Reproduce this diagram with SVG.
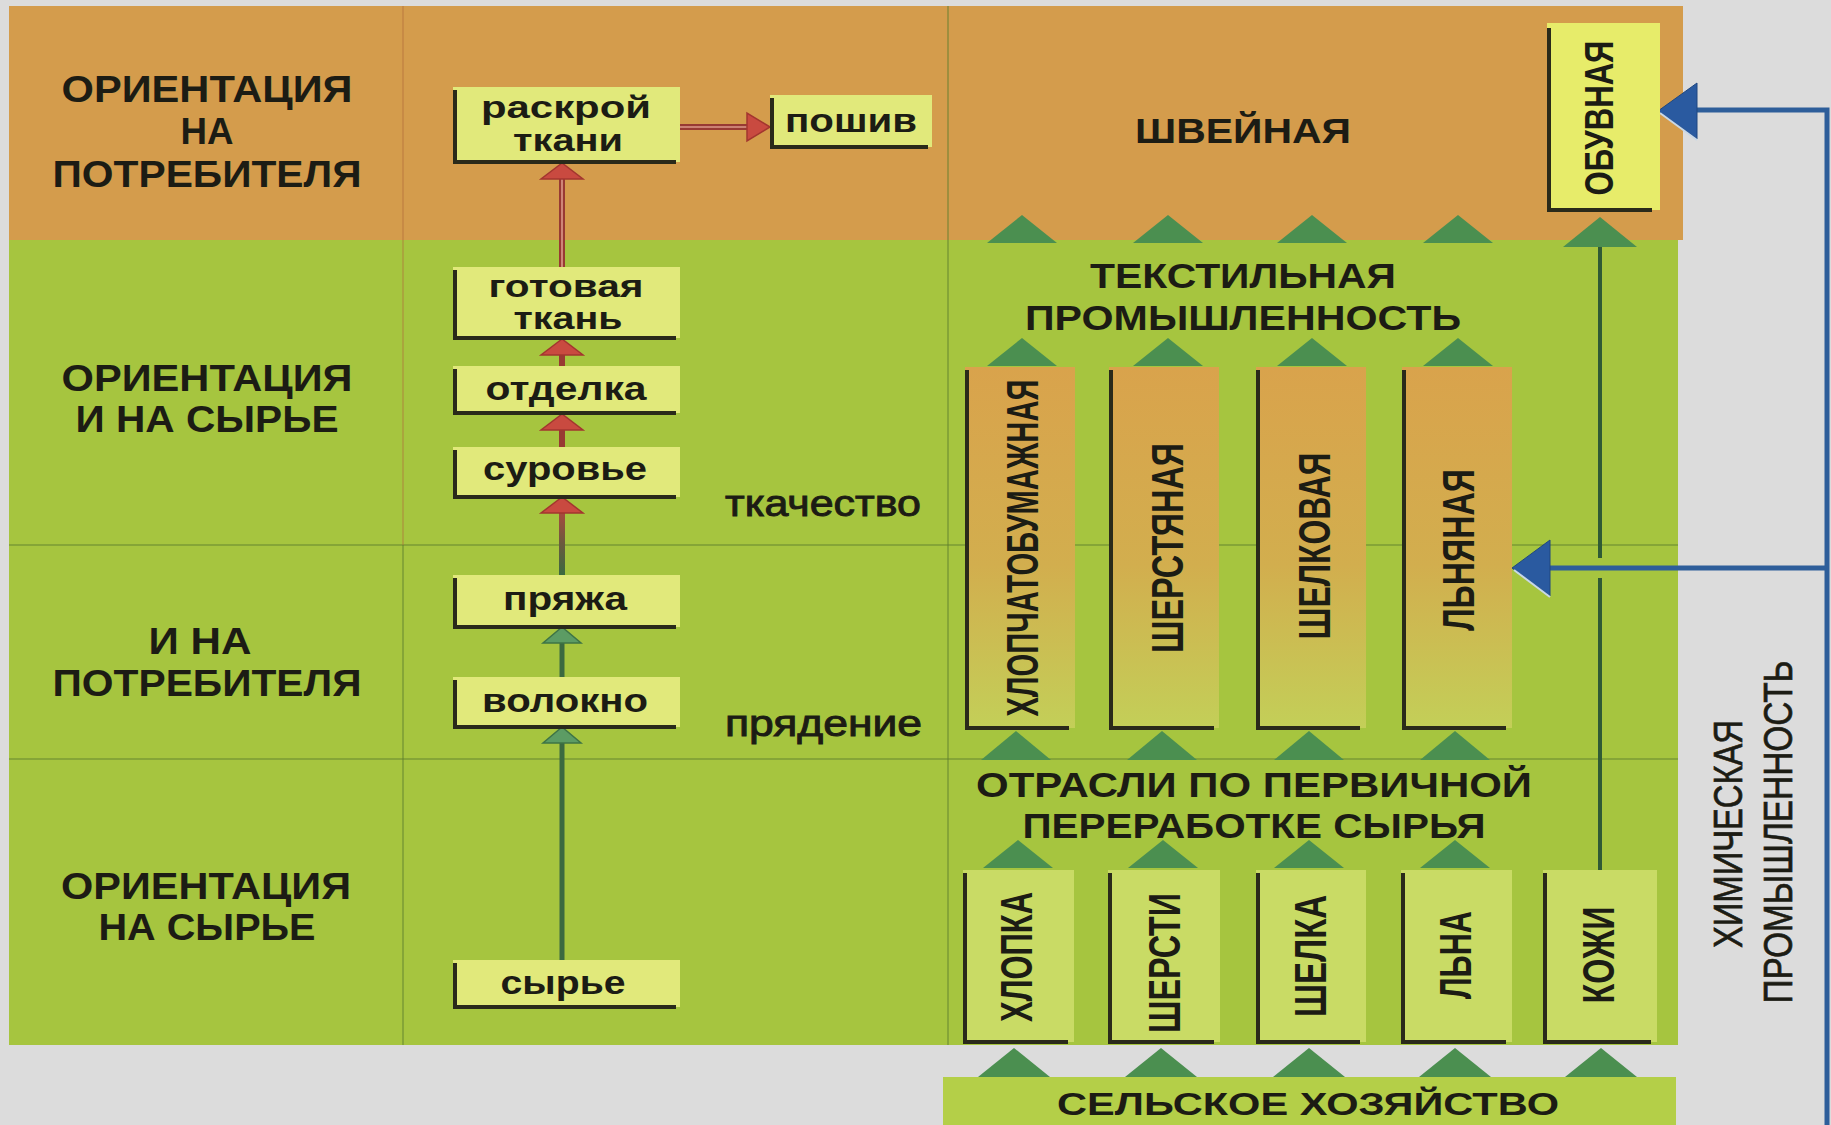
<svg xmlns="http://www.w3.org/2000/svg" width="1831" height="1125" viewBox="0 0 1831 1125">
<defs>
<linearGradient id="tallFill" x1="0" y1="0" x2="0" y2="1">
<stop offset="0" stop-color="#d9a34c"/>
<stop offset="0.55" stop-color="#d2ae4e"/>
<stop offset="1" stop-color="#c3cf58"/>
</linearGradient>
<linearGradient id="redGreen" gradientUnits="userSpaceOnUse" x1="0" y1="512" x2="0" y2="575">
<stop offset="0" stop-color="#a84a3e"/>
<stop offset="0.5" stop-color="#6b5a3e"/>
<stop offset="1" stop-color="#3b6a40"/>
</linearGradient>
<style>
text{font-family:"Liberation Sans",Arial,"DejaVu Sans",sans-serif;fill:#1c1c14}
.lbl{font-size:36px;font-weight:bold;text-anchor:middle}
.hd{font-size:35px;font-weight:bold;text-anchor:middle}
.nd{font-size:34px;font-weight:bold;text-anchor:middle}
.nd2{font-size:31px;font-weight:bold;text-anchor:middle}
.pr{font-size:36px;font-weight:normal;stroke:#1c1c14;stroke-width:0.9;text-anchor:start}
.vt{font-size:44px;font-weight:bold;text-anchor:middle}
.ch{font-size:40px;font-weight:normal;stroke:#1c1c14;stroke-width:0.7;text-anchor:middle}
.box{fill:#e1e97b}
.ob{fill:#e7ec6a}
.tall{fill:url(#tallFill)}
.low{fill:#c9db65}
.edge{fill:none;stroke:#2a2a1a;stroke-width:4}
.tri{fill:#4b8f50}
.grid{stroke:#5f7f2e;stroke-width:2;opacity:0.45}
.red{stroke:#983a33;stroke-width:6;fill:none}
.redc{stroke:#dd9a8a;stroke-width:1.6;fill:none}
.redh{fill:#c94a40;stroke:#a3362f;stroke-width:1.5}
.grn{stroke:#3b6a40;stroke-width:5;fill:none}
.grnh{fill:#5c9c64;stroke:#3e7446;stroke-width:1.5}
.blue{stroke:#2e5e9a;stroke-width:5;fill:none}
.blueh{fill:#2a5aa0;stroke:#1f4780;stroke-width:1}
.dk{stroke:#2f5a35;stroke-width:4;fill:none}
</style>
</defs>

<rect x="0" y="0" width="1831" height="1125" fill="#dcdcdc"/>

<g id="panel">
<rect x="9" y="6" width="1674" height="234" fill="#d49c4c"/>
<rect x="9" y="240" width="1669" height="805" fill="#a6c53f"/>
<line class="grid" x1="9" y1="545" x2="1678" y2="545"/>
<line class="grid" x1="9" y1="759" x2="1678" y2="759"/>
<line class="grid" x1="403" y1="545" x2="403" y2="1045"/>
<line x1="403" y1="6" x2="403" y2="545" stroke="#b06a3a" stroke-width="2" opacity="0.35"/>
<line class="grid" x1="948" y1="6" x2="948" y2="1045" opacity="0.3"/>
<rect x="943" y="1077" width="733" height="48" fill="#b4cf48"/>
</g>

<g id="row-labels">
<text class="lbl" x="207" y="102" textLength="291" lengthAdjust="spacingAndGlyphs">ОРИЕНТАЦИЯ</text>
<text class="lbl" x="207" y="144" textLength="53" lengthAdjust="spacingAndGlyphs">НА</text>
<text class="lbl" x="207" y="187" textLength="309" lengthAdjust="spacingAndGlyphs">ПОТРЕБИТЕЛЯ</text>
<text class="lbl" x="207" y="391" textLength="291" lengthAdjust="spacingAndGlyphs">ОРИЕНТАЦИЯ</text>
<text class="lbl" x="207" y="432" textLength="263" lengthAdjust="spacingAndGlyphs">И НА СЫРЬЕ</text>
<text class="lbl" x="200" y="654" textLength="103" lengthAdjust="spacingAndGlyphs">И НА</text>
<text class="lbl" x="207" y="696" textLength="309" lengthAdjust="spacingAndGlyphs">ПОТРЕБИТЕЛЯ</text>
<text class="lbl" x="206" y="899" textLength="290" lengthAdjust="spacingAndGlyphs">ОРИЕНТАЦИЯ</text>
<text class="lbl" x="207" y="940" textLength="217" lengthAdjust="spacingAndGlyphs">НА СЫРЬЕ</text>
</g>

<g id="connectors">
<line class="red" x1="680" y1="127" x2="749" y2="127"/>
<line class="redc" x1="680" y1="127" x2="749" y2="127"/>
<polygon class="redh" points="770,127 747,113 747,141"/>
<line class="red" x1="562" y1="267" x2="562" y2="176"/>
<line class="redc" x1="562" y1="267" x2="562" y2="176"/>
<polygon class="redh" points="562,163 541,179 583,179"/>
<line class="red" x1="562" y1="366" x2="562" y2="352"/>
<polygon class="redh" points="562,339 541,355 583,355"/>
<line class="red" x1="562" y1="447" x2="562" y2="428"/>
<polygon class="redh" points="562,414 541,430 583,430"/>
<rect x="559" y="510" width="6" height="65" fill="url(#redGreen)"/>
<polygon class="redh" points="562,497 541,513 583,513"/>
<line class="grn" x1="562" y1="677" x2="562" y2="640"/>
<polygon class="grnh" points="562,627 543,643 581,643"/>
<line class="grn" x1="562" y1="960" x2="562" y2="740"/>
<polygon class="grnh" points="562,727 543,743 581,743"/>

<polygon class="tri" points="1022,215 987,243 1057,243"/>
<polygon class="tri" points="1168,215 1133,243 1203,243"/>
<polygon class="tri" points="1312,215 1277,243 1347,243"/>
<polygon class="tri" points="1458,215 1423,243 1493,243"/>
<polygon class="tri" points="1600,217 1563,247 1637,247"/>

<polygon class="tri" points="1022,338 987,366 1057,366"/>
<polygon class="tri" points="1168,338 1133,366 1203,366"/>
<polygon class="tri" points="1312,338 1277,366 1347,366"/>
<polygon class="tri" points="1458,338 1423,366 1493,366"/>

<polygon class="tri" points="1016,731 981,760 1051,760"/>
<polygon class="tri" points="1162,731 1127,760 1197,760"/>
<polygon class="tri" points="1309,731 1274,760 1344,760"/>
<polygon class="tri" points="1455,731 1420,760 1490,760"/>

<polygon class="tri" points="1018,840 983,868 1053,868"/>
<polygon class="tri" points="1163,840 1128,868 1198,868"/>
<polygon class="tri" points="1309,840 1274,868 1344,868"/>
<polygon class="tri" points="1455,840 1420,868 1490,868"/>

<polygon class="tri" points="1014,1048 978,1077 1050,1077"/>
<polygon class="tri" points="1161,1048 1125,1077 1197,1077"/>
<polygon class="tri" points="1309,1048 1273,1077 1345,1077"/>
<polygon class="tri" points="1455,1048 1419,1077 1491,1077"/>
<polygon class="tri" points="1601,1048 1565,1077 1637,1077"/>

<line class="dk" x1="1600" y1="870" x2="1600" y2="578"/>
<line class="dk" x1="1600" y1="558" x2="1600" y2="247"/>

<polyline class="blue" points="1827,1125 1827,110 1695,110"/>
<polygon class="blueh" points="1658,111 1697,83 1697,139"/>
<line x1="1660" y1="113" x2="1697" y2="140" stroke="#c8d8e8" stroke-width="2"/>
<line class="blue" x1="1827" y1="568" x2="1548" y2="568"/>
<polygon class="blueh" points="1512,568 1550,540 1550,596"/>
<line x1="1514" y1="570" x2="1550" y2="597" stroke="#c8d8e8" stroke-width="2"/>
</g>

<g id="node-raskroy">
<rect class="box" x="453" y="87" width="227" height="75"/>
<path class="edge" d="M455,90 V162 H676"/>
<text class="nd2" x="566" y="118" textLength="170" lengthAdjust="spacingAndGlyphs">раскрой</text>
<text class="nd2" x="568" y="151" textLength="110" lengthAdjust="spacingAndGlyphs">ткани</text>
</g>
<g id="node-poshiv">
<rect class="box" x="770" y="95" width="162" height="52"/>
<path class="edge" d="M772,98 V147 H928"/>
<text class="nd" x="851" y="132" textLength="132" lengthAdjust="spacingAndGlyphs">пошив</text>
</g>
<g id="node-gotovaya">
<rect class="box" x="453" y="267" width="227" height="71"/>
<path class="edge" d="M455,270 V338 H676"/>
<text class="nd2" x="566" y="297" textLength="155" lengthAdjust="spacingAndGlyphs">готовая</text>
<text class="nd2" x="568" y="329" textLength="109" lengthAdjust="spacingAndGlyphs">ткань</text>
</g>
<g id="node-otdelka">
<rect class="box" x="453" y="366" width="227" height="47"/>
<path class="edge" d="M455,369 V413 H676"/>
<text class="nd" x="566" y="400" textLength="161" lengthAdjust="spacingAndGlyphs">отделка</text>
</g>
<g id="node-surovye">
<rect class="box" x="453" y="447" width="227" height="50"/>
<path class="edge" d="M455,450 V497 H676"/>
<text class="nd" x="565" y="480" textLength="164" lengthAdjust="spacingAndGlyphs">суровье</text>
</g>
<g id="node-pryazha">
<rect class="box" x="453" y="575" width="227" height="52"/>
<path class="edge" d="M455,578 V627 H676"/>
<text class="nd" x="565" y="610" textLength="124" lengthAdjust="spacingAndGlyphs">пряжа</text>
</g>
<g id="node-volokno">
<rect class="box" x="453" y="677" width="227" height="50"/>
<path class="edge" d="M455,680 V727 H676"/>
<text class="nd" x="565" y="712" textLength="166" lengthAdjust="spacingAndGlyphs">волокно</text>
</g>
<g id="node-syrye">
<rect class="box" x="453" y="960" width="227" height="47"/>
<path class="edge" d="M455,963 V1007 H676"/>
<text class="nd" x="563" y="994" textLength="125" lengthAdjust="spacingAndGlyphs">сырье</text>
</g>

<g id="stage-labels">
<text class="pr" x="725" y="516" textLength="196" lengthAdjust="spacingAndGlyphs">ткачество</text>
<text class="pr" x="725" y="736" textLength="197" lengthAdjust="spacingAndGlyphs">прядение</text>
</g>

<g id="node-shveynaya">
<text class="hd" x="1243" y="143" textLength="216" lengthAdjust="spacingAndGlyphs">ШВЕЙНАЯ</text>
</g>
<g id="node-obuvnaya">
<rect class="ob" x="1547" y="23" width="113" height="187"/>
<path class="edge" d="M1549,28 V210 H1652"/>
<text class="vt" transform="translate(1613,118) rotate(-90)" style="font-size:40px" textLength="155" lengthAdjust="spacingAndGlyphs">ОБУВНАЯ</text>
</g>
<g id="node-textile">
<text class="hd" x="1243" y="288" textLength="306" lengthAdjust="spacingAndGlyphs">ТЕКСТИЛЬНАЯ</text>
<text class="hd" x="1243" y="330" textLength="436" lengthAdjust="spacingAndGlyphs">ПРОМЫШЛЕННОСТЬ</text>
</g>

<g id="node-hlopchatobumazhnaya">
<rect class="tall" x="965" y="367" width="110" height="361"/>
<path class="edge" d="M967,370 V728 H1069"/>
<text class="vt" transform="translate(1038,548) rotate(-90)" textLength="337" lengthAdjust="spacingAndGlyphs">ХЛОПЧАТОБУМАЖНАЯ</text>
</g>
<g id="node-sherstyanaya">
<rect class="tall" x="1109" y="367" width="110" height="361"/>
<path class="edge" d="M1111,370 V728 H1214"/>
<text class="vt" transform="translate(1183,548) rotate(-90)" textLength="210" lengthAdjust="spacingAndGlyphs">ШЕРСТЯНАЯ</text>
</g>
<g id="node-shelkovaya">
<rect class="tall" x="1256" y="367" width="110" height="361"/>
<path class="edge" d="M1258,370 V728 H1360"/>
<text class="vt" transform="translate(1330,546) rotate(-90)" textLength="187" lengthAdjust="spacingAndGlyphs">ШЕЛКОВАЯ</text>
</g>
<g id="node-lnyanaya">
<rect class="tall" x="1402" y="367" width="110" height="361"/>
<path class="edge" d="M1404,370 V728 H1506"/>
<text class="vt" transform="translate(1474,550) rotate(-90)" textLength="162" lengthAdjust="spacingAndGlyphs">ЛЬНЯНАЯ</text>
</g>

<g id="node-pervichnaya">
<text class="hd" x="1254" y="797" textLength="556" lengthAdjust="spacingAndGlyphs">ОТРАСЛИ ПО ПЕРВИЧНОЙ</text>
<text class="hd" x="1254" y="838" textLength="463" lengthAdjust="spacingAndGlyphs">ПЕРЕРАБОТКЕ СЫРЬЯ</text>
</g>

<g id="node-hlopka">
<rect class="low" x="963" y="870" width="111" height="172"/>
<path class="edge" d="M965,873 V1042 H1068"/>
<text class="vt" transform="translate(1032,957) rotate(-90)" textLength="130" lengthAdjust="spacingAndGlyphs">ХЛОПКА</text>
</g>
<g id="node-shersti">
<rect class="low" x="1108" y="870" width="112" height="172"/>
<path class="edge" d="M1110,873 V1042 H1214"/>
<text class="vt" transform="translate(1180,963) rotate(-90)" textLength="140" lengthAdjust="spacingAndGlyphs">ШЕРСТИ</text>
</g>
<g id="node-shelka">
<rect class="low" x="1256" y="870" width="110" height="172"/>
<path class="edge" d="M1258,873 V1042 H1360"/>
<text class="vt" transform="translate(1326,956) rotate(-90)" textLength="122" lengthAdjust="spacingAndGlyphs">ШЕЛКА</text>
</g>
<g id="node-lna">
<rect class="low" x="1401" y="870" width="111" height="172"/>
<path class="edge" d="M1403,873 V1042 H1506"/>
<text class="vt" transform="translate(1471,955) rotate(-90)" textLength="88" lengthAdjust="spacingAndGlyphs">ЛЬНА</text>
</g>
<g id="node-kozhi">
<rect class="low" x="1543" y="870" width="114" height="172"/>
<path class="edge" d="M1545,873 V1042 H1651"/>
<text class="vt" transform="translate(1614,955) rotate(-90)" textLength="97" lengthAdjust="spacingAndGlyphs">КОЖИ</text>
</g>

<g id="node-selskoe">
<text class="hd" x="1308" y="1115" style="font-size:32px" textLength="502" lengthAdjust="spacingAndGlyphs">СЕЛЬСКОЕ ХОЗЯЙСТВО</text>
</g>

<g id="node-himicheskaya">
<text class="ch" transform="translate(1742,834) rotate(-90)" textLength="228" lengthAdjust="spacingAndGlyphs">ХИМИЧЕСКАЯ</text>
<text class="ch" transform="translate(1792,832) rotate(-90)" textLength="343" lengthAdjust="spacingAndGlyphs">ПРОМЫШЛЕННОСТЬ</text>
</g>
</svg>
